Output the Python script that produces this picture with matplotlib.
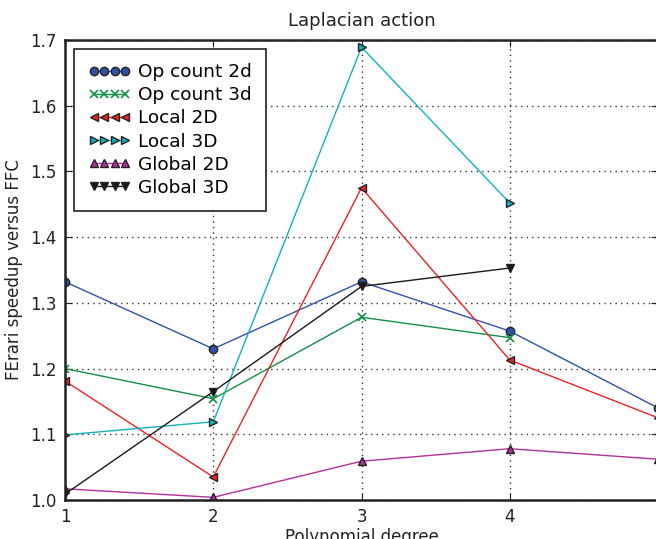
"""
Laplacian action: FErari speedup versus FFC.
"""

import matplotlib

matplotlib.use("Agg")
import matplotlib.pyplot as plt

degrees = [1, 2, 3, 4, 5]

op_count_2d = [1.332, 1.230, 1.332, 1.257, 1.140]
op_count_3d = [1.200, 1.154, 1.278, 1.247]
local_2d = [1.181, 1.035, 1.475, 1.213, 1.125]
local_3d = [1.099, 1.119, 1.689, 1.452]
global_2d = [1.017, 1.004, 1.059, 1.078, 1.062]
global_3d = [1.009, 1.165, 1.325, 1.353]

series = [
    ("Op count 2d", op_count_2d, "o", "#3252a8"),
    ("Op count 3d", op_count_3d, "x", "#139048"),
    ("Local 2D", local_2d, "<", "#ec2228"),
    ("Local 3D", local_3d, ">", "#12b2bc"),
    ("Global 2D", global_2d, "^", "#b0309a"),
    ("Global 3D", global_3d, "v", "#1a1a1a"),
]

fig = plt.figure(figsize=(6.56, 5.39), dpi=100)
ax = fig.add_axes([0.0991, 0.0724, 0.904, 0.8534])

for label, values, marker, color in series:
    edge = color if marker == "x" else "#222222"
    ax.plot(
        degrees[: len(values)],
        values,
        marker=marker,
        color=color,
        linewidth=1.0,
        markersize=6,
        markerfacecolor=color,
        markeredgecolor=edge,
        markeredgewidth=1.0 if marker != "x" else 1.2,
        label=label,
    )

ax.set_xlim(1, 5)
ax.set_ylim(1.0, 1.7)
ax.set_xticks([1, 2, 3, 4])
ax.set_yticks([1.0, 1.1, 1.2, 1.3, 1.4, 1.5, 1.6, 1.7])
ax.set_yticklabels(["1.0", "1.1", "1.2", "1.3", "1.4", "1.5", "1.6", "1.7"])
ax.grid(True, color="#333333", linestyle=(0, (1, 3)), linewidth=1.0)
ax.tick_params(direction="in", length=5, labelsize=12, top=True, right=True,
               colors="#222222", pad=6)
for spine in ax.spines.values():
    spine.set_linewidth(1.8)
    spine.set_color("#222222")

ax.set_title("Laplacian action", fontsize=13, color="#222222", pad=10)
ax.set_xlabel("Polynomial degree", fontsize=12, color="#222222", labelpad=1)
ax.set_ylabel("FErari speedup versus FFC", fontsize=12, color="#222222", labelpad=5)

leg = ax.legend(loc="upper left", numpoints=4, fontsize=13.3, fancybox=False,
                framealpha=1.0, edgecolor="#222222", handlelength=2.3,
                markerscale=1.0, handletextpad=0.4, labelspacing=0.28,
                borderpad=0.75, borderaxespad=0.5, bbox_to_anchor=(0.0, 1.0))
leg.get_frame().set_linewidth(1.2)

fig.savefig("out.png", dpi=100)
